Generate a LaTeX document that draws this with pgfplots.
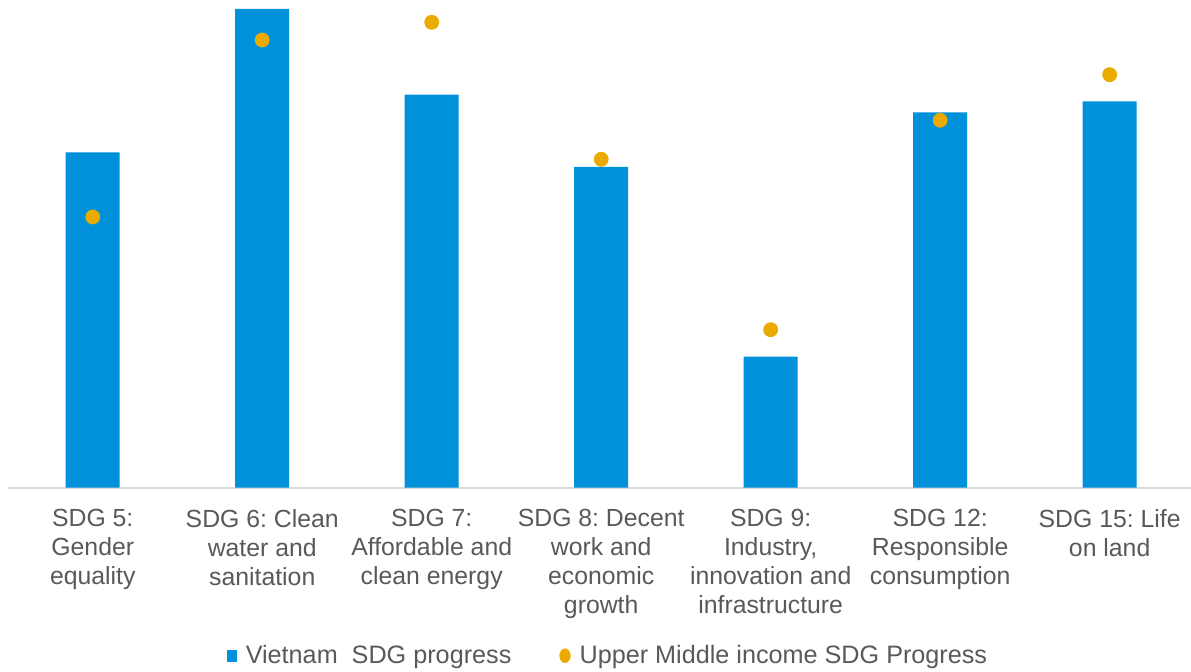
\documentclass[border=0pt]{standalone}
\usepackage{fontspec}
\setmainfont{Liberation Sans}
\usepackage{pgfplots}
\pgfplotsset{compat=1.18}
\definecolor{vnblue}{HTML}{0091DA}
\definecolor{umgold}{HTML}{EAAA00}
\definecolor{labelgrey}{HTML}{595959}
\definecolor{axisgrey}{HTML}{D9D9D9}
\begin{document}
\frenchspacing
\begin{tikzpicture}
\begin{axis}[
  at={(4pt,-243.85pt)}, anchor=south west,
  scale only axis,
  width=591.5pt, height=243.85pt,
  xmin=-0.5, xmax=6.48,
  ymin=0, ymax=487.7,
  axis x line=bottom,
  axis y line=none,
  axis line style={draw=axisgrey, line width=1pt, -},
  xtick={0,1,2,3,4,5,6},
  major tick length=0pt,
  xticklabels={
    {SDG 5:\\Gender\\equality},
    {SDG 6: Clean\\water and\\sanitation},
    {SDG 7:\\Affordable and\\clean energy},
    {SDG 8: Decent\\work and\\economic\\growth},
    {SDG 9:\\Industry,\\innovation and\\infrastructure},
    {SDG 12:\\Responsible\\consumption},
    {SDG 15: Life\\on land}},
  xticklabel style={align=center, text=labelgrey, inner sep=0pt,
    font=\fontsize{12.4}{14.5}\selectfont, anchor=north, yshift=-10.5pt},
  clip=false,
  legend columns=2,
  legend style={draw=none, fill=none, at={(0.508,-0.3445)}, anchor=center,
    font=\fontsize{12.6}{14}\selectfont, text=labelgrey,
    /tikz/every odd column/.append style={column sep=2.5pt},
    /tikz/every even column/.append style={column sep=22pt}},
  legend cell align=left,
]
\addplot[ybar, bar width=27pt, fill=vnblue, draw=none, bar shift=0pt,
  legend image code/.code={\fill[vnblue] (-2.5pt,-3pt) rectangle (2.5pt,3pt);}]
  coordinates {(0,335.4) (1,478.7) (2,393.0) (3,320.7) (4,131.0) (5,375.4) (6,386.4)};
\addlegendentry{Vietnam\ \ SDG progress}
\addplot[only marks, color=umgold, mark=*, mark size=3.5pt,
  mark options={fill=umgold, draw=umgold},
  legend image code/.code={\fill[umgold] (0pt,0pt) ellipse (2.6pt and 3.4pt);}]
  coordinates {(0,270.7) (1,447.7) (2,465.4) (3,328.4) (4,158.0) (5,367.4) (6,413.0)};
\addlegendentry{Upper Middle income SDG Progress}
\end{axis}
\pgfresetboundingbox
\path[use as bounding box] (0pt,0pt) rectangle (595.5pt,-336pt);
\end{tikzpicture}
\end{document}
